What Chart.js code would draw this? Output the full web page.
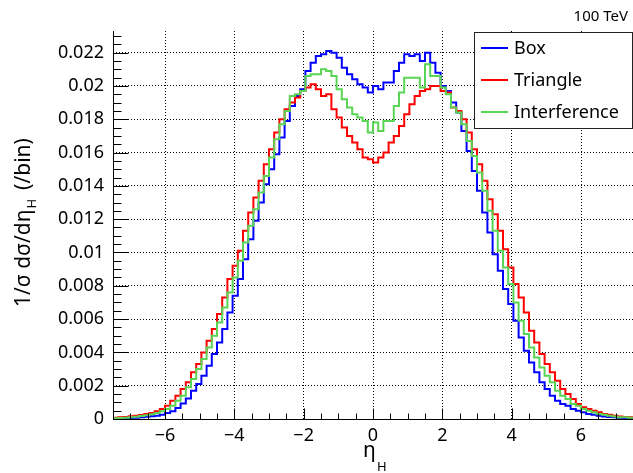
<!DOCTYPE html>
<html>
<head>
<meta charset="utf-8">
<script src="https://cdn.jsdelivr.net/npm/chart.js@4.4.1/dist/chart.umd.min.js"></script>
<style>
  html, body { margin: 0; padding: 0; background: #fff; }
  #wrap { width: 633px; height: 473px; }
</style>
</head>
<body>
<div id="wrap"><canvas id="etaChart" width="633" height="473"></canvas></div>
<script>
// eta_H histogram: 100 bins between -7.5 and 7.5
const etaMin = -7.5;
const etaMax = 7.5;
const nBins = 100;

const boxValues = [
  0.00003, 0.00004, 0.00005, 0.00006, 0.00008, 0.0001, 0.00013, 0.00016, 0.0002, 0.00026,
  0.00036, 0.00046, 0.00066, 0.00093, 0.00123, 0.0017, 0.0021, 0.0026, 0.0032, 0.0039,
  0.0046, 0.0054, 0.0064, 0.0074, 0.0084, 0.0096, 0.0108, 0.0119, 0.0130, 0.0141,
  0.0150, 0.0159, 0.0169, 0.0179, 0.0188, 0.0194, 0.0198, 0.0209, 0.0214, 0.0218,
  0.0219, 0.0221, 0.0220, 0.0217, 0.0211, 0.0207, 0.0204, 0.0201, 0.0199, 0.0196,
  0.0200, 0.0198, 0.0202, 0.0202, 0.0209, 0.0214, 0.0219, 0.0218, 0.0219, 0.0215,
  0.0220, 0.0214, 0.0208, 0.0200, 0.0197, 0.0190, 0.0184, 0.0173, 0.0161, 0.0149,
  0.0137, 0.0124, 0.0112, 0.0099, 0.0089, 0.0078, 0.0069, 0.0059, 0.0049, 0.0041,
  0.0034, 0.0028, 0.0022, 0.0018, 0.0014, 0.0011, 0.0009, 0.0008, 0.0006, 0.0005,
  0.0004, 0.0003, 0.00025, 0.0002, 0.00015, 0.00012, 0.0001, 0.00008, 0.00006, 0.00005
];

const triangleValues = [
  0.00008, 0.0001, 0.00012, 0.00016, 0.0002, 0.00024, 0.0003, 0.00036, 0.00046, 0.0006,
  0.0008, 0.0011, 0.0014, 0.0018, 0.0022, 0.0028, 0.0033, 0.0040, 0.0047, 0.0054,
  0.0063, 0.0073, 0.0084, 0.0092, 0.0101, 0.0113, 0.0124, 0.0133, 0.0143, 0.0153,
  0.0162, 0.0172, 0.0180, 0.0186, 0.0190, 0.0193, 0.0197, 0.0199, 0.0201, 0.0198,
  0.0194, 0.0195, 0.0186, 0.0181, 0.0175, 0.0170, 0.0166, 0.0162, 0.0157, 0.0156,
  0.0154, 0.0157, 0.0160, 0.0166, 0.0170, 0.0176, 0.0183, 0.0189, 0.0194, 0.0197,
  0.0198, 0.0200, 0.0200, 0.0197, 0.0196, 0.0187, 0.0185, 0.0180, 0.0172, 0.0162,
  0.0153, 0.0143, 0.0132, 0.0123, 0.0113, 0.0102, 0.0091, 0.0081, 0.0073, 0.0064,
  0.0053, 0.0046, 0.0039, 0.0033, 0.0028, 0.0023, 0.0018, 0.0015, 0.0012, 0.0009,
  0.0007, 0.0006, 0.0005, 0.0004, 0.0003, 0.00025, 0.0002, 0.00015, 0.00012, 0.0001
];

const interferenceValues = [
  0.00005, 0.00006, 0.00008, 0.0001, 0.00014, 0.00018, 0.00022, 0.00028, 0.00036, 0.00046,
  0.0006, 0.0008, 0.0011, 0.0014, 0.0019, 0.0024, 0.0030, 0.0036, 0.0043, 0.0050,
  0.0058, 0.0067, 0.0076, 0.0085, 0.0095, 0.0106, 0.0116, 0.0126, 0.0136, 0.0146,
  0.0157, 0.0168, 0.0177, 0.0185, 0.0194, 0.0195, 0.0197, 0.0206, 0.0207, 0.0207,
  0.0210, 0.0209, 0.0206, 0.0198, 0.0192, 0.0187, 0.0183, 0.0181, 0.0179, 0.0172,
  0.0178, 0.0173, 0.0179, 0.0179, 0.0188, 0.0196, 0.0205, 0.0205, 0.0205, 0.0199,
  0.0213, 0.0206, 0.0206, 0.0199, 0.0195, 0.0187, 0.0184, 0.0177, 0.0167, 0.0158,
  0.0148, 0.0137, 0.0125, 0.0113, 0.0101, 0.0091, 0.0081, 0.0070, 0.0059, 0.0051,
  0.0043, 0.0037, 0.0031, 0.0026, 0.0022, 0.0017, 0.0014, 0.0012, 0.0009, 0.0008,
  0.0006, 0.0005, 0.0004, 0.0003, 0.00025, 0.0002, 0.00015, 0.0001, 0.0001, 0.00008
];

const seriesNames = ['Box', 'Triangle', 'Interference'];
const seriesColors = ['#0000ff', '#ff0000', '#59d454'];

const xTickValues = [-6, -4, -2, 0, 2, 4, 6];
const yTickValues = [0, 0.002, 0.004, 0.006, 0.008, 0.01, 0.012, 0.014, 0.016, 0.018, 0.02, 0.022];
const yMax = 0.0233;

const FONT = '"Noto Sans", sans-serif';

// points at the lower bin edges, plus the upper edge of the last bin
function histPoints(values) {
    const w = (etaMax - etaMin) / nBins;
    const pts = values.map((v, i) => ({x: etaMin + i * w, y: v}));
    pts.push({x: etaMax, y: values[values.length - 1]});
    return pts;
}

// ROOT-like frame: inward ticks, legend box, axis titles
const rootStyle = {
    id: 'rootStyle',
    afterDatasetsDraw(chart) {
        const {ctx, chartArea: a, scales} = chart;
        const x = scales.x, y = scales.y;
        const left = Math.round(a.left) + 0.5;
        const bottom = Math.round(a.bottom) + 0.5;

        ctx.save();
        ctx.strokeStyle = '#000';
        ctx.lineWidth = 1;
        ctx.beginPath();
        ctx.moveTo(left, a.top);
        ctx.lineTo(left, bottom);
        ctx.lineTo(a.right, bottom);
        for (let i = 0; i * 0.0005 <= yMax + 1e-9; i++) {
            const py = Math.round(y.getPixelForValue(i * 0.0005)) + 0.5;
            const len = i % 4 === 0 ? 15 : 8;
            ctx.moveTo(left, py);
            ctx.lineTo(left + len, py);
        }
        for (let i = -14; i <= 14; i++) {
            const px = Math.round(x.getPixelForValue(i * 0.5)) + 0.5;
            const len = i % 4 === 0 ? 11 : 6;
            ctx.moveTo(px, bottom);
            ctx.lineTo(px, bottom - len);
        }
        ctx.stroke();

        // legend
        const lx = 474.5, ly = 32.5, lw = 158, lh = 96;
        ctx.fillStyle = '#fff';
        ctx.fillRect(lx, ly, lw, lh);
        ctx.strokeStyle = '#222';
        ctx.strokeRect(lx, ly, lw, lh);
        ctx.font = '18px ' + FONT;
        ctx.textBaseline = 'middle';
        ctx.textAlign = 'left';
        chart.data.datasets.forEach((ds, i) => {
            const cy = 48 + i * 32;
            ctx.strokeStyle = ds.borderColor;
            ctx.lineWidth = 2;
            ctx.beginPath();
            ctx.moveTo(481, cy);
            ctx.lineTo(508, cy);
            ctx.stroke();
            ctx.fillStyle = '#000';
            ctx.fillText(ds.label, 514, cy + 1);
        });

        // energy label
        ctx.fillStyle = '#000';
        ctx.font = '15px ' + FONT;
        ctx.textAlign = 'right';
        ctx.textBaseline = 'alphabetic';
        ctx.fillText('100 TeV', 628, 21);

        // x title
        ctx.textAlign = 'left';
        ctx.font = '21px ' + FONT;
        ctx.fillText('η', 363, 457);
        ctx.font = '13px ' + FONT;
        ctx.fillText('H', 377, 471);

        // y title (rotated)
        ctx.translate(30, 307);
        ctx.rotate(-Math.PI / 2);
        ctx.font = '21px ' + FONT;
        const p1 = '1/σ dσ/dη';
        ctx.fillText(p1, 0, 0);
        let w = ctx.measureText(p1).width;
        ctx.font = '13px ' + FONT;
        ctx.fillText('H', w + 1, 6);
        w += ctx.measureText('H').width + 10;
        ctx.font = '21px ' + FONT;
        ctx.fillText('(/bin)', w, 0);
        ctx.restore();
    }
};

const datasets = [boxValues, triangleValues, interferenceValues].map((vals, i) => ({
    label: seriesNames[i],
    data: histPoints(vals),
    borderColor: seriesColors[i],
    backgroundColor: seriesColors[i],
    borderWidth: 2,
    pointRadius: 0,
    stepped: true,
    fill: false,
    order: 2 - i
}));

new Chart(document.getElementById('etaChart'), {
    type: 'line',
    data: {datasets: datasets},
    options: {
        responsive: false,
        animation: false,
        devicePixelRatio: 1,
        layout: {padding: {top: 31, right: 0, bottom: 0, left: 0}},
        plugins: {legend: {display: false}, tooltip: {enabled: false}},
        scales: {
            x: {
                type: 'linear',
                min: etaMin,
                max: etaMax,
                afterBuildTicks: (s) => { s.ticks = xTickValues.map(v => ({value: v})); },
                afterFit: (s) => { s.height = 54; },
                ticks: {
                    autoSkip: false,
                    maxRotation: 0,
                    padding: 6,
                    color: '#000',
                    font: {family: FONT, size: 18},
                    callback: (v) => v < 0 ? '\u2212' + Math.abs(v) : String(v)
                },
                grid: {color: '#000', lineWidth: 1, drawTicks: false},
                border: {display: false, dash: [1, 2]}
            },
            y: {
                type: 'linear',
                min: 0,
                max: yMax,
                afterBuildTicks: (s) => { s.ticks = yTickValues.map(v => ({value: v})); },
                afterFit: (s) => { s.width = 113; },
                ticks: {
                    autoSkip: false,
                    padding: 9,
                    color: '#000',
                    font: {family: FONT, size: 18},
                    callback: (v) => String(parseFloat(v.toFixed(4)))
                },
                grid: {color: '#000', lineWidth: 1, drawTicks: false},
                border: {display: false, dash: [1, 2]}
            }
        }
    },
    plugins: [rootStyle]
});
</script>
</body>
</html>
